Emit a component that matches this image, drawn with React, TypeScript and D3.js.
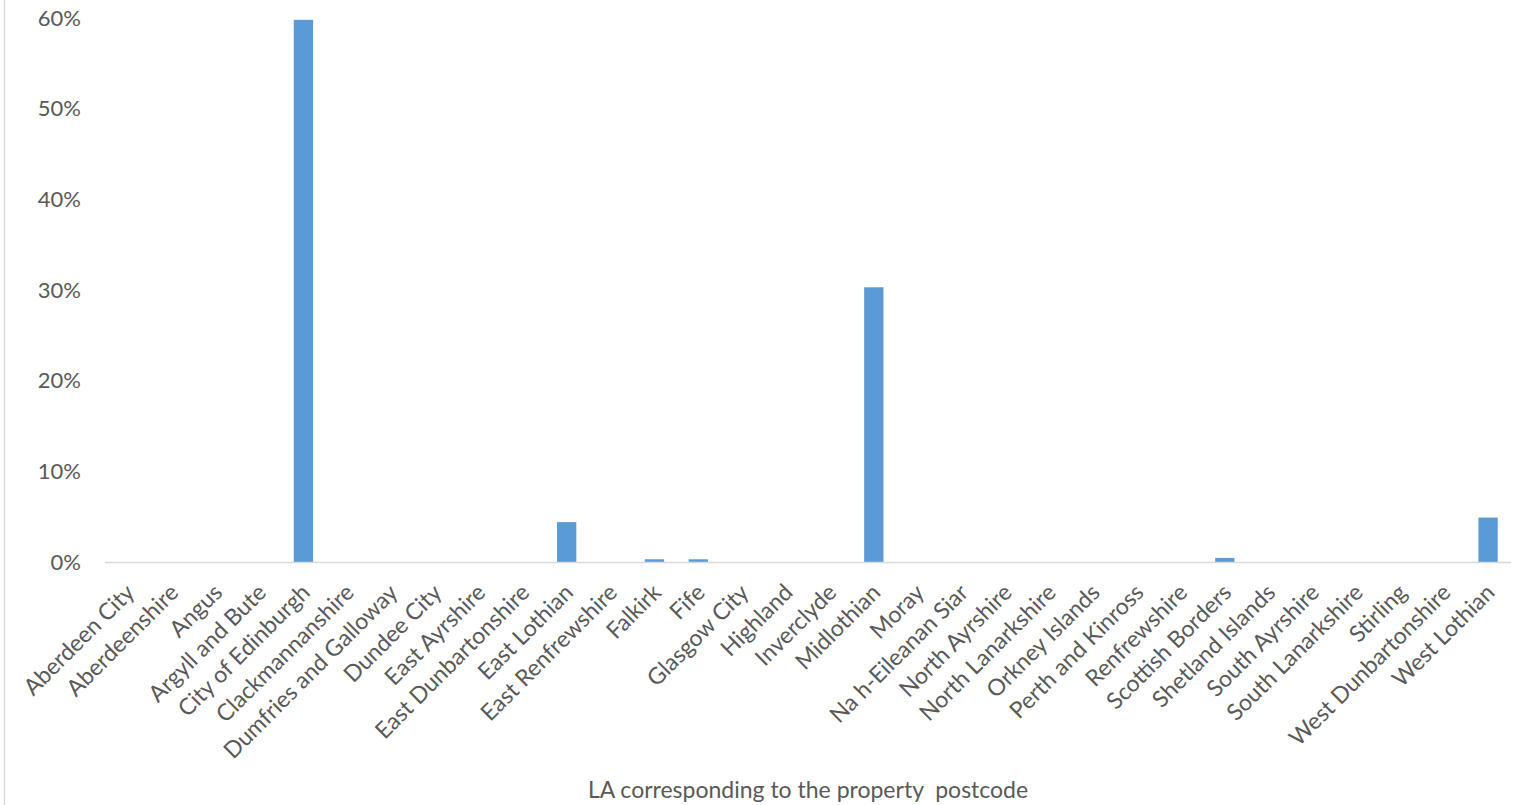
import React from "react";
import * as d3 from "d3";

const categories = [
  "Aberdeen City", "Aberdeenshire", "Angus", "Argyll and Bute", "City of Edinburgh",
  "Clackmannanshire", "Dumfries and Galloway", "Dundee City", "East Ayrshire",
  "East Dunbartonshire", "East Lothian", "East Renfrewshire", "Falkirk", "Fife",
  "Glasgow City", "Highland", "Inverclyde", "Midlothian", "Moray", "Na h-Eileanan Siar",
  "North Ayrshire", "North Lanarkshire", "Orkney Islands", "Perth and Kinross",
  "Renfrewshire", "Scottish Borders", "Shetland Islands", "South Ayrshire",
  "South Lanarkshire", "Stirling", "West Dunbartonshire", "West Lothian",
];
const values = [
  0, 0, 0, 0, 0.598,
  0, 0, 0, 0,
  0, 0.044, 0, 0.003, 0.003,
  0, 0, 0, 0.303, 0, 0,
  0, 0, 0, 0,
  0, 0.0045, 0, 0,
  0, 0, 0, 0.049,
];
const yTicks = [0, 0.1, 0.2, 0.3, 0.4, 0.5, 0.6];
const xTitle = "LA corresponding to the property\u00a0 postcode";

const W = 1516;
const H = 805;
const FONT = "Lato, 'Open Sans', sans-serif";
const TEXT = "#595959";

export default function App() {
  const x = d3.scaleBand<string>().domain(categories).range([106, 1510]).paddingInner(0.56).paddingOuter(0.28);
  const y = d3.scaleLinear().domain([0, 0.6]).range([562, 18]);
  const fmt = d3.format(".0%");
  return (
    <svg width={W} height={H} style={{ position: "absolute", left: 0, top: 0, background: "#fff" }}>
      <line x1={4.5} x2={4.5} y1={0} y2={H} stroke="#d9d9d9" strokeWidth={1.5} />
      {categories.map((c, i) => (
        <rect key={c} x={x(c)} width={x.bandwidth()} y={y(values[i])} height={y(0) - y(values[i])} fill="#5b9bd5" />
      ))}
      <line x1={105} x2={1511} y1={y(0) + 0.5} y2={y(0) + 0.5} stroke="#d9d9d9" strokeWidth={1.5} />
      {yTicks.map((t) => (
        <text key={t} x={81} y={y(t)} dy="0.35em" textAnchor="end" fontFamily={FONT} fontSize={22} fill={TEXT}>
          {fmt(t)}
        </text>
      ))}
      {categories.map((c) => {
        const cx = (x(c) as number) + x.bandwidth() / 2 + 8;
        const cy = 594;
        return (
          <text key={c} transform={`translate(${cx},${cy}) rotate(-45)`} textAnchor="end" fontFamily={FONT} fontSize={23} fill={TEXT}>
            {c}
          </text>
        );
      })}
      <text x={808} y={790} dy="0.35em" textAnchor="middle" fontFamily={FONT} fontSize={23} fill={TEXT}>
        {xTitle}
      </text>
    </svg>
  );
}
